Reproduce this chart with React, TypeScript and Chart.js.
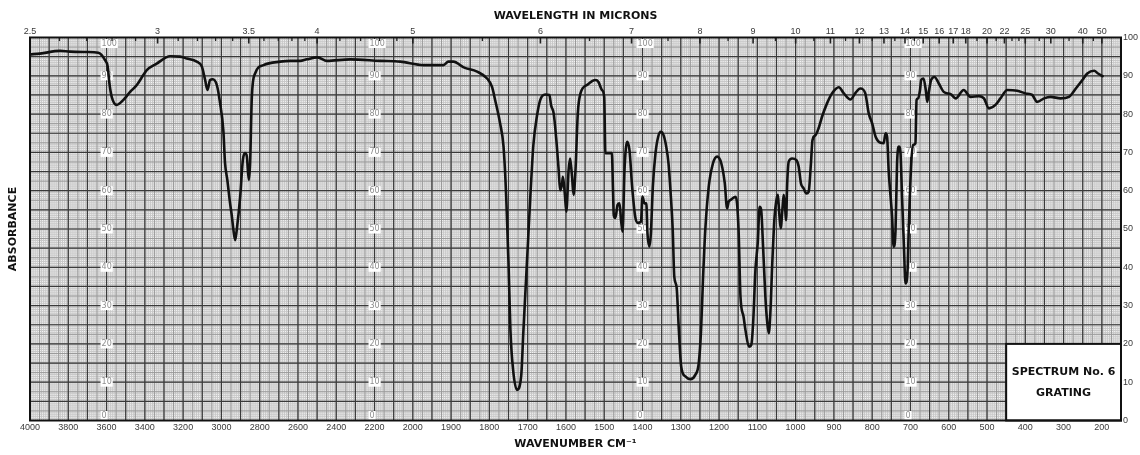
import React, { useEffect, useRef } from 'react';
import { Chart, registerables } from 'chart.js';

Chart.register(...registerables);

// Wavenumber axis: 4000–2000 cm-1 is drawn at half the scale of 2000–150 cm-1.
// Positions are expressed in "chart units" where 100 units = one labelled division.
const toPos = (wn: number) => (wn >= 2000 ? (4000 - wn) / 2 : 1000 + (2000 - wn));
const POS_MAX = toPos(150);

const WAVENUMBER_TICKS = [
  4000, 3800, 3600, 3400, 3200, 3000, 2800, 2600, 2400, 2200, 2000, 1900, 1800, 1700, 1600,
  1500, 1400, 1300, 1200, 1100, 1000, 900, 800, 700, 600, 500, 400, 300, 200,
];
const WAVELENGTH_TICKS = [
  2.5, 3, 3.5, 4, 5, 6, 7, 8, 9, 10, 11, 12, 13, 14, 15, 16, 17, 18, 20, 22, 25, 30, 40, 50,
];
const WAVELENGTH_MINOR = [
  2.6, 2.7, 2.8, 2.9, 3.1, 3.2, 3.3, 3.4, 3.6, 3.7, 3.8, 3.9, 4.2, 4.4, 4.6, 4.8, 5.5, 6.5,
  7.5, 8.5, 9.5, 10.5, 11.5, 12.5, 13.5, 14.5, 19, 21, 23, 24, 27.5, 35, 45,
];
const PERCENT_TICKS = [0, 10, 20, 30, 40, 50, 60, 70, 80, 90, 100];
const SCALE_COLUMNS = [3600, 2200, 1400, 700];

// Recorded trace (cm-1, %)
const wavenumbers = [
  4000, 3948, 3843, 3791, 3704, 3643, 3608, 3594, 3585, 3573, 3547, 3512, 3477, 3442, 3408,
  3390, 3338, 3268, 3216, 3181, 3129, 3102, 3085, 3073, 3059, 3045, 3024, 3007, 2990, 2981,
  2969, 2955, 2946, 2937, 2928, 2920, 2902, 2888, 2876, 2867, 2857, 2850, 2841, 2824, 2780,
  2693, 2641, 2589, 2554, 2498, 2449, 2327, 2170, 2066, 1972, 1920, 1907, 1894, 1867, 1832,
  1806, 1793, 1785, 1772, 1763, 1756, 1750, 1745, 1738, 1728, 1717, 1711, 1702, 1693, 1685,
  1676, 1667, 1654, 1643, 1639, 1632, 1625, 1619, 1615, 1610, 1608, 1603, 1599, 1593, 1589,
  1584, 1580, 1575, 1569, 1562, 1545, 1523, 1515, 1506, 1500, 1497, 1480, 1477, 1475, 1471,
  1465, 1460, 1456, 1452, 1447, 1440, 1434, 1427, 1419, 1412, 1404, 1400, 1395, 1390, 1387,
  1382, 1378, 1373, 1366, 1359, 1352, 1345, 1338, 1332, 1327, 1321, 1317, 1311, 1305, 1299,
  1288, 1275, 1262, 1253, 1247, 1242, 1236, 1227, 1216, 1205, 1194, 1185, 1179, 1175, 1170,
  1157, 1153, 1149, 1144, 1136, 1131, 1122, 1116, 1111, 1105, 1099, 1094, 1090, 1085, 1079,
  1074, 1070, 1066, 1061, 1055, 1050, 1047, 1042, 1039, 1034, 1031, 1027, 1025, 1022, 1018,
  1009, 998, 992, 986, 979, 972, 966, 960, 956, 948, 940, 931, 918, 905, 887,
  874, 857, 843, 831, 818, 809, 800, 791, 778, 770, 765, 761, 757, 748, 744,
  739, 735, 730, 726, 722, 717, 713, 708, 704, 698, 693, 687, 684, 680, 675,
  672, 666, 660, 656, 652, 646, 637, 626, 613, 595, 582, 561, 543, 521, 508,
  495, 478, 465, 447, 421, 399, 382, 369, 351, 334, 308, 286, 268, 251, 238,
  220, 210, 198,
];
const transmittance = [
  95.6, 95.8, 96.5, 96.3, 96.2, 96.0, 94.1, 92.4, 88.0, 84.5, 82.4, 83.7, 85.8, 87.6, 90.2,
  91.5, 93.2, 95.1, 95.0, 94.5, 93.7, 92.4, 88.9, 86.3, 88.9, 89.1, 87.6, 82.9, 75.8, 67.2,
  62.8, 56.8, 53.6, 49.7, 47.1, 49.7, 58.4, 68.0, 69.8, 68.9, 62.8, 67.2, 84.5, 90.6, 92.8,
  93.7, 93.9, 93.9, 94.3, 94.8, 93.9, 94.3, 93.9, 93.7, 92.8, 92.8, 93.7, 93.7, 92.2, 91.1,
  89.3, 87.1, 83.7, 77.6, 71.5, 58.4, 41.1, 23.6, 13.2, 8.0, 11.5, 23.6, 41.0, 58.4, 72.0,
  79.3, 83.7, 85.1, 85.0, 82.4, 80.2, 73.2, 65.4, 60.1, 61.9, 63.6, 59.3, 54.5, 65.4, 68.4,
  63.6, 58.9, 65.4, 80.2, 85.4, 87.6, 88.9, 88.4, 86.3, 84.5, 69.8, 69.8, 60.1, 53.6, 52.9,
  56.3, 56.7, 52.3, 49.3, 65.4, 72.8, 70.6, 61.0, 53.2, 51.6, 51.9, 58.4, 56.7, 56.7, 48.9,
  45.4, 48.9, 61.0, 69.8, 74.1, 75.4, 74.5, 71.5, 67.1, 60.2, 49.7, 37.6, 34.9, 23.6, 14.1,
  11.5, 10.8, 11.9, 15.0, 23.6, 36.7, 49.7, 61.0, 67.1, 68.9, 67.1, 61.9, 55.4, 57.1, 57.6,
  58.4, 56.7, 49.7, 32.3, 27.1, 23.6, 19.3, 19.7, 25.4, 39.3, 46.3, 55.8, 55.0, 45.4, 32.3,
  25.4, 22.8, 28.0, 41.0, 53.2, 57.6, 58.9, 53.2, 50.2, 55.8, 58.9, 55.0, 52.3, 61.9, 67.6,
  68.4, 68.0, 66.3, 61.9, 60.6, 59.3, 59.7, 67.1, 73.2, 74.5, 76.3, 79.3, 82.8, 85.4, 87.0,
  85.4, 83.8, 85.6, 86.7, 85.4, 80.2, 77.6, 74.1, 72.5, 72.4, 75.0, 74.1, 65.4, 53.2, 45.4,
  49.7, 67.1, 71.5, 69.8, 58.4, 45.4, 35.8, 38.4, 51.5, 67.1, 71.9, 72.4, 83.7, 84.1, 86.3,
  88.9, 89.3, 86.3, 83.2, 85.8, 88.9, 89.7, 88.0, 85.8, 85.2, 84.1, 86.3, 84.5, 84.7, 84.1,
  81.5, 82.4, 84.1, 86.3, 86.1, 85.4, 85.0, 83.2, 84.1, 84.5, 84.1, 84.5, 86.7, 88.9, 90.6,
  91.3, 90.6, 89.9,
];

const SPECTRUM_TITLE = ['SPECTRUM No. 6', 'GRATING'];
const BOX_WAVENUMBER = 450;
const BOX_PERCENT = 20;

const TICK_FONT = { family: '"Liberation Sans", Arial, sans-serif', size: 9 };
const TITLE_FONT = { family: '"DejaVu Sans", Verdana, sans-serif', size: 11, weight: 'bold' as const };
const NO_GRID = { display: false, drawTicks: false, tickLength: 0 };

// Graph-paper background, in-plot percent columns, wavelength marks, frame and caption box.
const chartPaper = {
  id: 'chartPaper',
  beforeDatasetsDraw(chart: any) {
    const { ctx, chartArea: a, scales } = chart;
    const xs = scales.x;
    const ys = scales.y;
    ctx.save();
    ctx.fillStyle = '#ffffff';
    ctx.fillRect(a.left, a.top, a.right - a.left, a.bottom - a.top);

    const vline = (p: number, color: string, w: number) => {
      const px = xs.getPixelForValue(p);
      ctx.strokeStyle = color;
      ctx.lineWidth = w;
      ctx.beginPath();
      ctx.moveTo(px, a.top);
      ctx.lineTo(px, a.bottom);
      ctx.stroke();
    };
    const hline = (t: number, color: string, w: number) => {
      const py = ys.getPixelForValue(t);
      ctx.strokeStyle = color;
      ctx.lineWidth = w;
      ctx.beginPath();
      ctx.moveTo(a.left, py);
      ctx.lineTo(a.right, py);
      ctx.stroke();
    };

    // fine ruling
    for (let p = 0; p <= POS_MAX; p += 5) vline(p, '#c8c8c8', 1);
    for (let t = 0; t <= 100; t += 0.5) hline(t, '#c8c8c8', 1);
    // intermediate ruling
    for (let p = 0; p <= POS_MAX; p += 25) vline(p, '#9a9a9a', 1);
    for (let t = 0; t <= 100; t += 2.5) hline(t, '#9a9a9a', 1);
    // heavy ruling
    for (let p = 0; p <= POS_MAX; p += 50) vline(p, '#3a3a3a', 1.2);
    for (let t = 0; t <= 100; t += 5) hline(t, '#3a3a3a', 1.2);

    // percent scale columns inside the plot
    ctx.font = '8px "DejaVu Sans", Verdana, sans-serif';
    ctx.textBaseline = 'middle';
    ctx.textAlign = 'left';
    for (const col of SCALE_COLUMNS) {
      const px = xs.getPixelForValue(toPos(col));
      for (const t of PERCENT_TICKS) {
        let py = ys.getPixelForValue(t);
        py = Math.min(Math.max(py, a.top + 6), a.bottom - 5);
        const label = String(t);
        const w = ctx.measureText(label).width;
        const left = px - 5;
        ctx.fillStyle = '#ffffff';
        ctx.fillRect(left - 1, py - 4.5, w + 2, 9);
        ctx.fillStyle = '#8e8e8e';
        ctx.fillText(label, left, py);
      }
    }

    // wavelength marks hanging from the top edge
    ctx.strokeStyle = '#222';
    for (const um of WAVELENGTH_TICKS) {
      const px = xs.getPixelForValue(toPos(10000 / um));
      ctx.lineWidth = 1.6;
      ctx.beginPath();
      ctx.moveTo(px, a.top);
      ctx.lineTo(px, a.top + 6);
      ctx.stroke();
    }
    for (const um of WAVELENGTH_MINOR) {
      const px = xs.getPixelForValue(toPos(10000 / um));
      ctx.lineWidth = 1.3;
      ctx.beginPath();
      ctx.moveTo(px, a.top);
      ctx.lineTo(px, a.top + 3.5);
      ctx.stroke();
    }
    ctx.restore();
  },
  afterDatasetsDraw(chart: any) {
    const { ctx, chartArea: a, scales } = chart;
    const xs = scales.x;
    const ys = scales.y;
    ctx.save();
    // caption box
    const bx = xs.getPixelForValue(toPos(BOX_WAVENUMBER));
    const by = ys.getPixelForValue(BOX_PERCENT);
    ctx.fillStyle = '#ffffff';
    ctx.fillRect(bx, by, a.right - bx, a.bottom - by);
    ctx.strokeStyle = '#111';
    ctx.lineWidth = 2;
    ctx.strokeRect(bx, by, a.right - bx, a.bottom - by);
    ctx.fillStyle = '#111';
    ctx.font = 'bold 11px "DejaVu Sans", Verdana, sans-serif';
    ctx.textAlign = 'center';
    ctx.textBaseline = 'middle';
    const cx = (bx + a.right) / 2;
    const cy = (by + a.bottom) / 2;
    ctx.fillText(SPECTRUM_TITLE[0], cx, cy - 10.5);
    ctx.fillText(SPECTRUM_TITLE[1], cx, cy + 10.5);
    // frame
    ctx.strokeStyle = '#111';
    ctx.lineWidth = 2;
    ctx.strokeRect(a.left, a.top, a.right - a.left, a.bottom - a.top);
    ctx.restore();
  },
};

export default function App() {
  const canvasRef = useRef<HTMLCanvasElement | null>(null);

  useEffect(() => {
    const canvas = canvasRef.current;
    if (!canvas) return;
    const points = wavenumbers.map((wn, i) => ({ x: toPos(wn), y: transmittance[i] }));

    const chart = new Chart(canvas, {
      type: 'line',
      data: {
        datasets: [
          {
            data: points,
            borderColor: '#111111',
            borderWidth: 2.6,
            pointRadius: 0,
            fill: false,
            cubicInterpolationMode: 'monotone',
            borderJoinStyle: 'round',
            borderCapStyle: 'round',
          },
        ],
      },
      options: {
        responsive: false,
        animation: false,
        layout: { padding: 0 },
        plugins: { legend: { display: false }, tooltip: { enabled: false } },
        scales: {
          x: {
            type: 'linear',
            position: 'bottom',
            min: 0,
            max: POS_MAX,
            bounds: 'data',
            grid: NO_GRID,
            border: { display: false },
            afterBuildTicks: (s: any) => {
              s.ticks = WAVENUMBER_TICKS.map((wn) => ({ value: toPos(wn) }));
            },
            afterFit: (s: any) => {
              s.height = 34.5;
            },
            ticks: {
              autoSkip: false,
              maxRotation: 0,
              minRotation: 0,
              padding: 2,
              color: '#3a3a3a',
              font: TICK_FONT,
              callback: (_v: any, i: number) => String(WAVENUMBER_TICKS[i]),
            },
            title: {
              display: true,
              text: 'WAVENUMBER CM⁻¹',
              color: '#111',
              font: TITLE_FONT,
              padding: { top: 0, bottom: 4 },
            },
          },
          xTop: {
            type: 'linear',
            position: 'top',
            min: 0,
            max: POS_MAX,
            bounds: 'data',
            grid: NO_GRID,
            border: { display: false },
            afterBuildTicks: (s: any) => {
              s.ticks = WAVELENGTH_TICKS.map((um) => ({ value: toPos(10000 / um) }));
            },
            afterFit: (s: any) => {
              s.height = 37.5;
            },
            ticks: {
              autoSkip: false,
              maxRotation: 0,
              minRotation: 0,
              padding: 1,
              color: '#3a3a3a',
              font: TICK_FONT,
              callback: (_v: any, i: number) => String(WAVELENGTH_TICKS[i]),
            },
            title: {
              display: true,
              text: 'WAVELENGTH IN MICRONS',
              color: '#111',
              font: TITLE_FONT,
              padding: { top: 10, bottom: 0 },
            },
          },
          y: {
            type: 'linear',
            position: 'right',
            min: 0,
            max: 100,
            grid: NO_GRID,
            border: { display: false },
            afterBuildTicks: (s: any) => {
              s.ticks = PERCENT_TICKS.map((t) => ({ value: t }));
            },
            afterFit: (s: any) => {
              s.width = 19;
            },
            ticks: {
              padding: 2,
              color: '#3a3a3a',
              font: TICK_FONT,
              callback: (v: any) => String(v),
            },
          },
          yLeft: {
            type: 'linear',
            position: 'left',
            min: 0,
            max: 100,
            grid: NO_GRID,
            border: { display: false },
            ticks: { display: false },
            afterFit: (s: any) => {
              s.width = 30;
            },
            title: {
              display: true,
              text: 'ABSORBANCE',
              color: '#111',
              font: TITLE_FONT,
              padding: { top: 7, bottom: 0 },
            },
          },
        },
      },
      plugins: [chartPaper],
    } as any);

    return () => chart.destroy();
  }, []);

  return (
    <div style={{ position: 'absolute', left: 0, top: 0, width: 1140, height: 455 }}>
      <canvas ref={canvasRef} width={1140} height={455} style={{ display: 'block' }} />
    </div>
  );
}
